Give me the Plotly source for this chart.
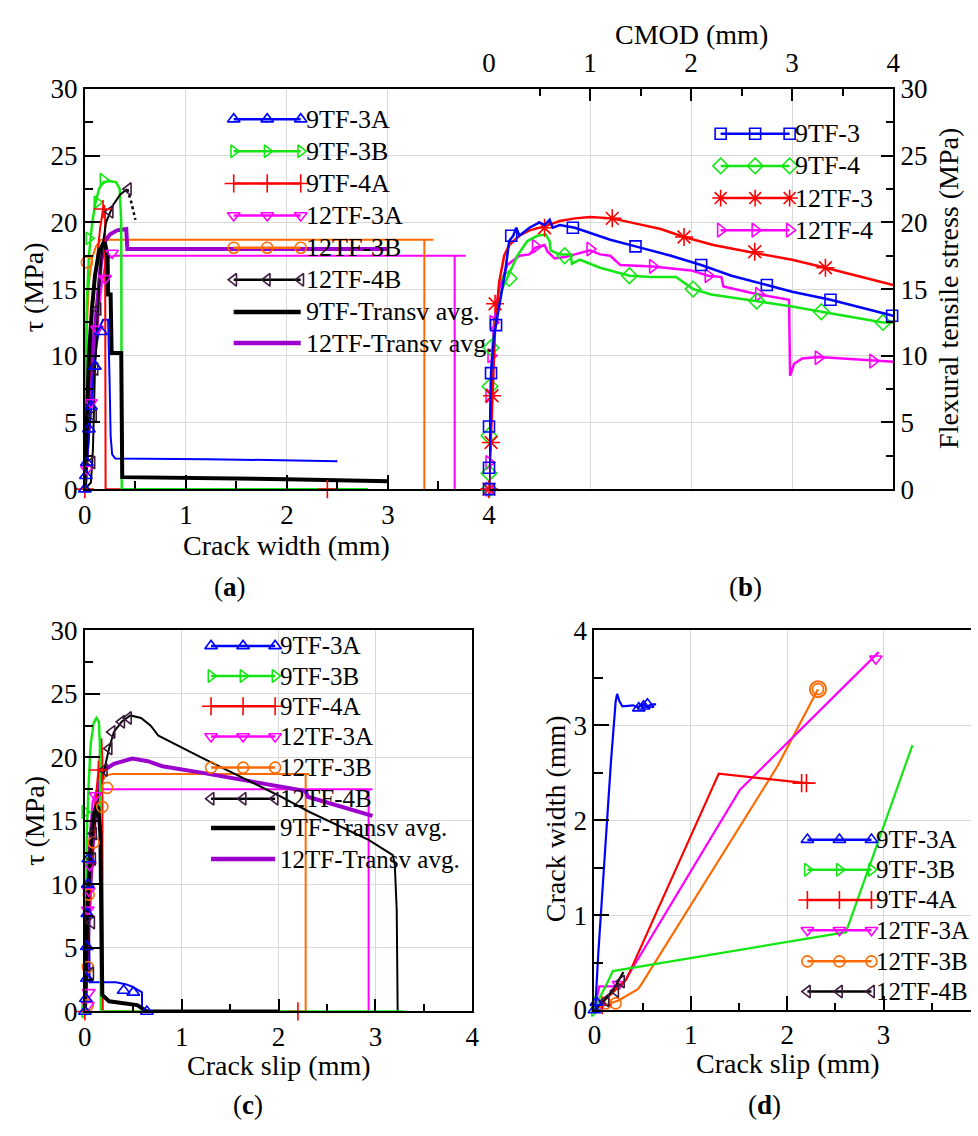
import plotly.graph_objects as go

W, H = 978, 1136
FONT = "Liberation Serif"

BLUE, GREEN, RED = "#0000FF", "#14E614", "#FF0000"
MAGENTA, ORANGE, BLACK = "#FF00FF", "#FF6A00", "#000000"
PURPLE, DARKP = "#9B00CC", "#3D1A3D"

# ---------------- (a) shear stress vs crack width ----------------
A_9TF3A_W = [0, 0.02, 0.04, 0.06, 0.09, 0.12, 0.15, 0.18, 0.23, 0.245, 0.255, 0.27, 0.30, 1.2, 2.5]
A_9TF3A_T = [0, 2.0, 4.5, 6.5, 9.0, 11.0, 12.2, 12.7, 12.7, 8.0, 4.0, 2.6, 2.3, 2.25, 2.1]
A_9TF3A_MW = [0.0, 0.01, 0.02, 0.04, 0.06, 0.10, 0.16]
A_9TF3A_MT = [0.0, 1.0, 2.0, 4.5, 6.2, 9.2, 11.8]

A_9TF3B_W = [0, 0.0, 0.01, 0.02, 0.04, 0.07, 0.10, 0.14, 0.18, 0.25, 0.31, 0.345, 0.36, 0.365, 2.8]
A_9TF3B_T = [0, 5, 10, 14, 17.5, 19.8, 21.3, 22.5, 23.0, 23.1, 23.0, 22.5, 20, 0, 0]
A_9TF3B_MW = [-0.02, -0.03, -0.03, 0.04, 0.12, 0.18]
A_9TF3B_MT = [2.2, 8.0, 14.9, 18.8, 21.5, 23.2]

A_9TF4A_W = [0, 0.02, 0.04, 0.06, 0.09, 0.12, 0.15, 0.18, 0.19, 0.20, 0.20, 0.205, 2.4]
A_9TF4A_T = [0, 4, 8, 11.5, 15, 17.5, 19.5, 21.0, 21.3, 20.5, 14.5, 0, 0]
A_9TF4A_MW = [0.0, 0.18, 2.4]
A_9TF4A_MT = [0.0, 21.0, 0.0]

A_12TF3A_W = [0, 0.02, 0.05, 0.08, 0.11, 0.14, 0.17, 0.20, 0.24, 0.30, 3.77, 3.66, 3.66]
A_12TF3A_T = [0, 2, 5, 8, 11, 13.5, 15.5, 16.8, 17.4, 17.5, 17.5, 17.5, 0]
A_12TF3A_MW = [0.02, 0.06, 0.12, 0.20, 0.27]
A_12TF3A_MT = [1.5, 6.5, 12.0, 15.8, 17.7]

A_12TF3B_W = [0, 0.005, 0.01, 0.02, 0.04, 0.07, 0.11, 0.16, 3.45, 3.36, 3.36]
A_12TF3B_T = [0, 4, 8, 12, 15.5, 17.3, 18.2, 18.7, 18.7, 18.7, 0]
A_12TF3B_MW = [-0.03, -0.03, -0.02, -0.02, -0.03, -0.02, 0.02]
A_12TF3B_MT = [1.0, 3.6, 7.8, 10.0, 12.6, 15.0, 17.0]

A_12TF4B_W = [0, 0.06, 0.08, 0.09, 0.10, 0.12, 0.14, 0.17, 0.21, 0.28, 0.35, 0.42]
A_12TF4B_T = [0, 0.5, 3, 6, 9, 12, 15, 18, 20, 21.3, 22.1, 22.5]
A_12TF4B_TAIL_W = [0.42, 0.46, 0.50]
A_12TF4B_TAIL_T = [22.5, 21.5, 20.2]
A_12TF4B_MW = [0.07, 0.085, 0.10, 0.13, 0.25, 0.43]
A_12TF4B_MT = [2.0, 5.5, 9.0, 13.5, 20.8, 22.5]

A_9TFAVG_W = [0, 0.01, 0.02, 0.04, 0.07, 0.10, 0.14, 0.18, 0.20, 0.225, 0.23, 0.255,
              0.265, 0.36, 0.37, 1.0, 2.0, 3.0]
A_9TFAVG_T = [0, 3, 6, 10, 13.5, 16, 17.8, 18.4, 18.4, 17.5, 14.6, 14.6,
              10.2, 10.2, 0.9, 0.85, 0.75, 0.6]

A_12TFAVG_W = [0, 0.02, 0.05, 0.08, 0.12, 0.16, 0.20, 0.25, 0.32, 0.41, 0.42, 3.0]
A_12TFAVG_T = [0, 3, 7, 10.5, 14, 17, 18.6, 19.1, 19.4, 19.5, 18.0, 18.0]

# ---------------- (b) flexural tensile stress vs CMOD ----------------
B_9TF3_C = [0, 0.02, 0.05, 0.10, 0.16, 0.20, 0.24, 0.27, 0.30, 0.40, 0.50, 0.55, 0.60, 0.63,
            0.70, 0.85, 1.0, 1.2, 1.45, 1.8, 2.1, 2.4, 2.75, 3.0, 3.38, 3.7, 4.0]
B_9TF3_S = [0, 8.7, 11.5, 13.6, 16.3, 18.6, 19.0, 19.6, 19.0, 19.6, 20.0, 19.8, 20.2, 19.6,
            19.8, 19.6, 19.2, 18.7, 18.2, 17.5, 16.8, 16.0, 15.3, 14.8, 14.2, 13.6, 13.0]
B_9TF3_MC = [0.0, 0.0, 0.0, 0.02, 0.07, 0.22, 0.83, 1.45, 2.1, 2.75, 3.38, 3.99]
B_9TF3_MS = [0.0, 1.6, 4.7, 8.7, 12.3, 19.0, 19.6, 18.2, 16.8, 15.3, 14.2, 13.0]

B_9TF4_C = [0, 0.01, 0.02, 0.04, 0.08, 0.13, 0.20, 0.28, 0.38, 0.48, 0.56, 0.60, 0.61, 0.70,
            0.81, 0.82, 0.90, 1.0, 1.1, 1.39, 1.6, 1.85, 2.02, 2.2, 2.65, 3.0, 3.29, 3.6, 3.9, 4.0]
B_9TF4_S = [0, 4, 8, 11, 13.5, 15, 16.2, 17.5, 18.6, 19.0, 19.1, 18.6, 17.9, 17.6,
            17.6, 16.9, 17.2, 16.9, 16.6, 16.0, 15.9, 15.9, 15.0, 14.6, 14.1, 13.7, 13.3, 12.9, 12.5, 12.5]
B_9TF4_MC = [0.0, 0.0, 0.0, 0.01, 0.02, 0.20, 0.75, 1.39, 2.02, 2.65, 3.29, 3.9]
B_9TF4_MS = [0.0, 1.2, 4.0, 7.7, 10.6, 15.8, 17.5, 16.0, 15.0, 14.1, 13.3, 12.5]

B_12TF3_C = [0, 0.02, 0.04, 0.06, 0.10, 0.15, 0.20, 0.30, 0.40, 0.55, 0.70, 0.85, 1.0, 1.22,
             1.4, 1.7, 1.93, 2.22, 2.63, 3.0, 3.33, 3.7, 4.0]
B_12TF3_S = [0, 4, 8, 12, 15.5, 17.5, 18.3, 19.0, 19.4, 19.7, 20.1, 20.3, 20.4, 20.3,
             20.0, 19.5, 18.9, 18.3, 17.7, 17.2, 16.6, 15.9, 15.3]
B_12TF3_MC = [0.0, 0.02, 0.03, 0.06, 0.55, 1.22, 1.93, 2.63, 3.33]
B_12TF3_MS = [0.0, 3.5, 7.0, 13.9, 19.6, 20.3, 18.9, 17.8, 16.6]

B_12TF4_C = [0, 0.01, 0.02, 0.03, 0.05, 0.10, 0.18, 0.30, 0.40, 0.46, 0.55, 0.58, 0.65, 0.75,
             0.85, 1.0, 1.1, 1.2, 1.3, 1.62, 2.0, 2.17, 2.3, 2.32, 2.6, 2.97, 2.98, 3.02, 3.1,
             3.26, 3.5, 3.8, 4.0]
B_12TF4_S = [0, 3, 7, 10, 12.5, 15, 16.8, 17.5, 17.6, 18.1, 18.3, 17.8, 17.3, 17.4,
             17.6, 17.9, 17.6, 17.5, 16.8, 16.7, 16.4, 16.0, 15.9, 15.2, 14.7, 14.2, 8.5, 9.4, 9.8,
             9.9, 9.8, 9.65, 9.55]
B_12TF4_MC = [0.0, 0.0, 0.0, 0.02, 0.04, 0.46, 1.0, 1.62, 2.17, 2.67, 3.26, 3.8]
B_12TF4_MS = [0.0, 2.0, 7.0, 10.0, 12.5, 18.2, 18.0, 16.7, 16.0, 14.6, 9.85, 9.6]

# ---------------- (c) shear stress vs crack slip ----------------
C_9TF3A_S = [0, 0.01, 0.02, 0.025, 0.03, 0.035, 0.04, 0.045, 0.05, 0.10, 0.32, 0.42, 0.49,
             0.59, 0.59, 0.62, 0.65]
C_9TF3A_T = [0, 2, 5, 8, 10, 12, 12.5, 6, 2.3, 2.3, 2.3, 2.15, 1.95, 1.5, 0.3, 0.0, 0.0]
C_9TF3A_MS = [0.0, 0.01, 0.02, 0.02, 0.025, 0.03, 0.035, 0.40, 0.50, 0.64]
C_9TF3A_MT = [0.0, 1.0, 2.6, 5.1, 7.7, 10.0, 12.0, 1.65, 1.5, 0.0]

C_9TF3B_S = [0, 0.005, 0.01, 0.02, 0.04, 0.06, 0.09, 0.12, 0.145, 0.155, 0.16, 0.165, 0.165, 3.3]
C_9TF3B_T = [0, 5, 10, 14, 18, 21, 22.7, 23.1, 22.8, 21, 15, 5, 0, 0]
C_9TF3B_MS = [0.0, 0.0]
C_9TF3B_MT = [0.0, 15.7]

C_9TF4A_S = [0, 0.02, 0.05, 0.08, 0.11, 0.14, 0.17, 0.18, 0.185, 2.2]
C_9TF4A_T = [0, 4, 9, 13, 16.5, 19, 21.5, 20, 0, 0]
C_9TF4A_MS = [0.0, 0.14, 2.2]
C_9TF4A_MT = [0.0, 19.0, 0.0]

C_12TF3A_S = [0, 0.01, 0.02, 0.03, 0.05, 0.08, 0.12, 0.20, 2.97, 2.93, 2.93]
C_12TF3A_T = [0, 3, 7, 11, 14, 16.5, 17.4, 17.5, 17.5, 17.5, 0]
C_12TF3A_MS = [0.03, 0.04, 0.03, 0.04, 0.05, 0.11]
C_12TF3A_MT = [0.5, 1.5, 8.0, 9.5, 11.5, 17.0]

C_12TF3B_S = [0, 0.01, 0.03, 0.06, 0.10, 0.15, 0.22, 0.30, 2.32, 2.28, 2.28]
C_12TF3B_T = [0, 4, 9, 13, 16, 17.8, 18.6, 18.7, 18.7, 18.7, 0]
C_12TF3B_MS = [0.03, 0.03, 0.04, 0.09, 0.18, 0.23]
C_12TF3B_MT = [0.5, 3.5, 9.2, 13.3, 16.1, 17.6]

C_12TF4B_S = [0, 0.02, 0.05, 0.09, 0.14, 0.20, 0.25, 0.30, 0.38, 0.47, 0.58, 0.68, 0.76,
              1.2, 1.57, 2.0, 2.32, 2.93, 3.18, 3.20, 3.22, 3.23]
C_12TF4B_T = [0, 5, 10, 14, 17, 19, 20.7, 22.0, 22.8, 23.3, 23.1, 22.5, 21.7,
              20.0, 18.6, 17.0, 15.7, 13.5, 12.3, 11.6, 8.0, 0]
C_12TF4B_MS = [0.06, 0.07, 0.08, 0.09, 0.20, 0.25, 0.28, 0.38, 0.45]
C_12TF4B_MT = [3.0, 7.0, 12.0, 14.0, 19.0, 20.7, 22.0, 22.8, 23.1]

C_9TFAVG_S = [0, 0.01, 0.03, 0.06, 0.09, 0.12, 0.14, 0.16, 0.17, 0.175, 0.18, 0.25,
              0.35, 0.54, 0.60, 0.64, 2.0]
C_9TFAVG_T = [0, 4, 9, 13, 15.5, 16.2, 16.0, 14, 9, 4, 1.3, 0.8,
              0.7, 0.5, 0.2, 0, 0]

C_12TFAVG_S = [0, 0.02, 0.05, 0.08, 0.11, 0.15, 0.20, 0.30, 0.49, 0.65, 0.80, 1.2, 1.8,
               2.28, 2.30, 2.6, 2.97]
C_12TFAVG_T = [0, 4, 9, 13, 16, 18, 19, 19.5, 19.9, 19.7, 19.3, 18.8, 18.0,
               17.35, 16.9, 16.2, 15.4]

# ---------------- (d) crack width vs crack slip ----------------
D_9TF3A_S = [0, 0.01, 0.04, 0.10, 0.17, 0.22, 0.235, 0.26, 0.29, 0.40, 0.45, 0.50, 0.55, 0.60, 0.64]
D_9TF3A_W = [0, 0.05, 0.6, 1.55, 2.6, 3.25, 3.33, 3.25, 3.2, 3.21, 3.19, 3.22, 3.2, 3.22, 3.22]
D_9TF3A_MS = [0.0, 0.02, 0.46, 0.51, 0.55]
D_9TF3A_MW = [0.0, 0.08, 3.18, 3.2, 3.22]

D_9TF3B_S = [0, 0.04, 0.13, 0.19, 2.61, 3.3]
D_9TF3B_W = [0, 0.1, 0.28, 0.41, 0.82, 2.79]
D_9TF3B_MS = [0.0, 0.02]
D_9TF3B_MW = [0.0, 0.08]

D_9TF4A_S = [0, 0.10, 0.20, 0.33, 1.29, 2.2]
D_9TF4A_W = [0, 0.1, 0.2, 0.32, 2.49, 2.39]
D_9TF4A_MS = [0.08, 2.15, 2.2]
D_9TF4A_MW = [0.05, 2.39, 2.39]

D_12TF3A_S = [0, 0.05, 0.20, 0.30, 1.51, 2.95]
D_12TF3A_W = [0, 0.25, 0.25, 0.28, 2.32, 3.77]
D_12TF3A_MS = [0.05, 0.25, 2.92]
D_12TF3A_MW = [0.05, 0.27, 3.7]

D_12TF3B_S = [0, 0.10, 0.25, 0.45, 0.48, 1.9, 2.32]
D_12TF3B_W = [0, 0.05, 0.1, 0.22, 0.26, 2.57, 3.38]
D_12TF3B_MS = [0.12, 0.22, 2.32]
D_12TF3B_MW = [0.07, 0.07, 3.38]

D_12TF4B_S = [0, 0.10, 0.20, 0.30]
D_12TF4B_W = [0, 0.1, 0.22, 0.4]
D_12TF4B_MS = [0.12, 0.22, 0.28]
D_12TF4B_MW = [0.1, 0.2, 0.3]

LEG_A = ["9TF-3A", "9TF-3B", "9TF-4A", "12TF-3A", "12TF-3B", "12TF-4B",
         "9TF-Transv avg.", "12TF-Transv avg."]
LEG_B = ["9TF-3", "9TF-4", "12TF-3", "12TF-4"]

fig = go.Figure()


def curve(x, y, color, width, xa, ya, dash=None):
    fig.add_trace(go.Scatter(x=x, y=y, mode="lines", xaxis=xa, yaxis=ya,
                             line=dict(color=color, width=width, dash=dash),
                             showlegend=False, hoverinfo="skip"))


def marks(x, y, color, symbol, size, xa, ya, lw=1.6):
    fig.add_trace(go.Scatter(x=x, y=y, mode="markers", xaxis=xa, yaxis=ya, cliponaxis=False,
                             marker=dict(symbol=symbol, size=size, color=color,
                                         line=dict(color=color, width=lw)),
                             showlegend=False, hoverinfo="skip"))


# series styles shared by (a), (c), (d)
STY = {
    "9TF-3A": (BLUE, "triangle-up-open", 11, BLUE),
    "9TF-3B": (GREEN, "triangle-right-open", 11, GREEN),
    "9TF-4A": (RED, "cross-thin-open", 13, RED),
    "12TF-3A": (MAGENTA, "triangle-down-open", 11, MAGENTA),
    "12TF-3B": (ORANGE, "circle-open", 11, ORANGE),
    "12TF-4B": (BLACK, "triangle-left-open", 11, DARKP),
}

# ---- (a)
xa, ya = "x", "y"
curve(A_12TF3A_W, A_12TF3A_T, MAGENTA, 2, xa, ya)
curve(A_12TF3B_W, A_12TF3B_T, ORANGE, 2, xa, ya)
curve(A_12TFAVG_W, A_12TFAVG_T, PURPLE, 4, xa, ya)
curve(A_9TF3A_W, A_9TF3A_T, BLUE, 2, xa, ya)
curve(A_9TF4A_W, A_9TF4A_T, RED, 2, xa, ya)
curve(A_9TF3B_W, A_9TF3B_T, GREEN, 2.5, xa, ya)
curve(A_12TF4B_W, A_12TF4B_T, BLACK, 2, xa, ya)
curve(A_12TF4B_TAIL_W, A_12TF4B_TAIL_T, BLACK, 2.5, xa, ya, dash="dot")
curve(A_9TFAVG_W, A_9TFAVG_T, BLACK, 4, xa, ya)
for (mx, my, key) in [(A_12TF3B_MW, A_12TF3B_MT, "12TF-3B"), (A_9TF3B_MW, A_9TF3B_MT, "9TF-3B"),
                      (A_12TF3A_MW, A_12TF3A_MT, "12TF-3A"), (A_12TF4B_MW, A_12TF4B_MT, "12TF-4B"),
                      (A_9TF4A_MW, A_9TF4A_MT, "9TF-4A"), (A_9TF3A_MW, A_9TF3A_MT, "9TF-3A")]:
    c, s, z, mc = STY[key]
    marks(mx, my, mc, s, z, xa, ya)

# ---- (b)
xb, yb = "x2", "y2"
for (cx, cy, mx, my, col, sym, sz) in [
        (B_12TF4_C, B_12TF4_S, B_12TF4_MC, B_12TF4_MS, MAGENTA, "triangle-right-open", 12),
        (B_9TF4_C, B_9TF4_S, B_9TF4_MC, B_9TF4_MS, GREEN, "diamond-open", 12),
        (B_12TF3_C, B_12TF3_S, B_12TF3_MC, B_12TF3_MS, RED, "asterisk-open", 15),
        (B_9TF3_C, B_9TF3_S, B_9TF3_MC, B_9TF3_MS, BLUE, "square-open", 11)]:
    curve(cx, cy, col, 2.5, xb, yb)
    marks(mx, my, col, sym, sz, xb, yb)

# ---- (c)
xc, yc = "x3", "y3"
curve(C_12TF3A_S, C_12TF3A_T, MAGENTA, 2, xc, yc)
curve(C_12TF3B_S, C_12TF3B_T, ORANGE, 2, xc, yc)
curve(C_12TFAVG_S, C_12TFAVG_T, PURPLE, 4, xc, yc)
curve(C_12TF4B_S, C_12TF4B_T, BLACK, 2, xc, yc)
curve(C_9TF3A_S, C_9TF3A_T, BLUE, 2, xc, yc)
curve(C_9TF4A_S, C_9TF4A_T, RED, 2, xc, yc)
curve(C_9TF3B_S, C_9TF3B_T, GREEN, 2.5, xc, yc)
curve(C_9TFAVG_S, C_9TFAVG_T, BLACK, 4, xc, yc)
for (mx, my, key) in [(C_12TF3B_MS, C_12TF3B_MT, "12TF-3B"), (C_12TF3A_MS, C_12TF3A_MT, "12TF-3A"),
                      (C_12TF4B_MS, C_12TF4B_MT, "12TF-4B"), (C_9TF3B_MS, C_9TF3B_MT, "9TF-3B"),
                      (C_9TF4A_MS, C_9TF4A_MT, "9TF-4A"), (C_9TF3A_MS, C_9TF3A_MT, "9TF-3A")]:
    c, s, z, mc = STY[key]
    marks(mx, my, mc, s, z, xc, yc)

# ---- (d)
xd, yd = "x4", "y4"
for (cx, cy, mx, my, key) in [
        (D_12TF3B_S, D_12TF3B_W, D_12TF3B_MS, D_12TF3B_MW, "12TF-3B"),
        (D_12TF3A_S, D_12TF3A_W, D_12TF3A_MS, D_12TF3A_MW, "12TF-3A"),
        (D_9TF4A_S, D_9TF4A_W, D_9TF4A_MS, D_9TF4A_MW, "9TF-4A"),
        (D_9TF3B_S, D_9TF3B_W, D_9TF3B_MS, D_9TF3B_MW, "9TF-3B"),
        (D_12TF4B_S, D_12TF4B_W, D_12TF4B_MS, D_12TF4B_MW, "12TF-4B"),
        (D_9TF3A_S, D_9TF3A_W, D_9TF3A_MS, D_9TF3A_MW, "9TF-3A")]:
    c, s, z, mc = STY[key]
    curve(cx, cy, c, 2.2, xd, yd)
    marks(mx, my, mc, s, z, xd, yd)
# larger end circle on 12TF-3B in (d)
fig.add_trace(go.Scatter(x=[D_12TF3B_MS[-1]], y=[D_12TF3B_MW[-1]], mode="markers", xaxis=xd, yaxis=yd,
                         cliponaxis=False, showlegend=False, hoverinfo="skip",
                         marker=dict(symbol="circle-open", size=16, color=ORANGE,
                                     line=dict(color=ORANGE, width=2))))

# ---- legend keys drawn in a pixel-space overlay
xo, yo = "x5", "y5"
annotations = []


def legend_rows(labels, styles, x0, x1, ys, fsize):
    for lab, (col, sym, sz, mc, lw), y in zip(labels, styles, ys):
        fig.add_trace(go.Scatter(x=[x0, x1], y=[y, y], mode="lines", xaxis=xo, yaxis=yo,
                                 line=dict(color=col, width=lw), showlegend=False, hoverinfo="skip"))
        if sym:
            fig.add_trace(go.Scatter(x=[x0, (x0 + x1) / 2, x1], y=[y, y, y], mode="markers",
                                     xaxis=xo, yaxis=yo, cliponaxis=False, showlegend=False,
                                     hoverinfo="skip",
                                     marker=dict(symbol=sym, size=sz, color=mc,
                                                 line=dict(color=mc, width=1.6))))
        annotations.append(dict(x=(x1 + 3) / W, y=1 - y / H, xref="paper", yref="paper",
                                text=lab, showarrow=False, xanchor="left", yanchor="middle",
                                font=dict(family=FONT, size=fsize, color="black")))


six = [STY[k] + (2.5,) for k in LEG_A[:6]]
avg = [(BLACK, None, 0, BLACK, 4.5), (PURPLE, None, 0, PURPLE, 4.5)]
legend_rows(LEG_A, six + avg, 230, 298, [107, 140, 173, 206, 239, 272, 305, 337], 26)
legend_rows(LEG_B, [(BLUE, "square-open", 11, BLUE, 2.5), (GREEN, "diamond-open", 12, GREEN, 2.5),
                    (RED, "asterisk-open", 14, RED, 2.5), (MAGENTA, "triangle-right-open", 12, MAGENTA, 2.5)],
            724, 794, [122, 155, 188, 221], 26)
legend_rows(LEG_A, six + avg, 207, 272, [648, 679, 710, 741, 773, 805, 835, 867], 25)
legend_rows(LEG_A[:6], six, 812, 877, [847, 878, 909, 940, 972, 1003], 25)


def txt(x, y, s, size=28, angle=0):
    annotations.append(dict(x=x / W, y=1 - y / H, xref="paper", yref="paper", text=s,
                            showarrow=False, textangle=angle, xanchor="center", yanchor="middle",
                            font=dict(family=FONT, size=size, color="black")))


txt(284, 545, "Crack width (mm)")
txt(27, 280, "τ (MPa)", angle=-90)
txt(694, 20, "CMOD (mm)")
txt(955, 281, "Flexural tensile stress (MPa)", angle=-90)
txt(276, 1079, "Crack slip (mm)")
txt(28, 828, "τ (MPa)", angle=-90)
txt(792, 1077, "Crack slip (mm)")
txt(556, 826, "Crack width (mm)", angle=-90)
txt(226, 588, "(<b>a</b>)", 27)
txt(749, 588, "(<b>b</b>)", 27)
txt(244, 1120, "(<b>c</b>)", 27)
txt(768, 1120, "(<b>d</b>)", 27)


def ax(domain, rng, dtick, major, minor, **kw):
    d = dict(domain=domain, range=rng, dtick=dtick, tick0=0, showline=True, linecolor="black",
             linewidth=2, ticks="inside", ticklen=major, tickwidth=2, tickcolor="black",
             showgrid=True, gridcolor="#d9d9d9", gridwidth=1, zeroline=False,
             tickfont=dict(family=FONT, size=27, color="black"),
             minor=dict(dtick=dtick / 2, ticks="inside", ticklen=minor, tickwidth=2,
                        tickcolor="black", showgrid=False))
    d.update(kw)
    return d


yab = [1 - 487 / H, 1 - 76 / H]
ycd = [1 - 1023.5 / H, 1 - 632 / H]
ydd = [1 - 1022 / H, 1 - 632 / H]
fig.update_layout(
    width=W, height=H, margin=dict(l=0, r=0, t=0, b=0),
    font=dict(family=FONT, color="black"),
    paper_bgcolor="white", plot_bgcolor="rgba(0,0,0,0)", showlegend=False,
    xaxis=ax([79 / W, 489 / W], [0, 4], 1, 14, 8, anchor="y", mirror=True),
    yaxis=ax(yab, [0, 30], 5, 15, 8, anchor="x", mirror=False),
    xaxis2=ax([489 / W, 899 / W], [0, 4], 1, 12, 7, anchor="y2", side="top", mirror=True,
              ticklabelstandoff=4),
    yaxis2=ax(yab, [0, 30], 5, 12, 7, anchor="x2", side="right", mirror=False),
    xaxis3=ax([79 / W, 472 / W], [0, 4], 1, 12, 7, anchor="y3", mirror=True),
    yaxis3=ax(ycd, [0, 30], 5, 15, 8, anchor="x3", mirror=True),
    xaxis4=ax([596 / W, 1.0], [0, (978 - 596) / 97.75], 1, 14, 7, anchor="y4", mirror=True),
    yaxis4=ax(ydd, [0, 4], 1, 15, 9, anchor="x4", mirror=False),
    xaxis5=dict(domain=[0, 1], range=[0, W], visible=False, anchor="y5"),
    yaxis5=dict(domain=[0, 1], range=[H, 0], visible=False, anchor="x5"),
    annotations=annotations,
)

fig.write_html("out.html")
